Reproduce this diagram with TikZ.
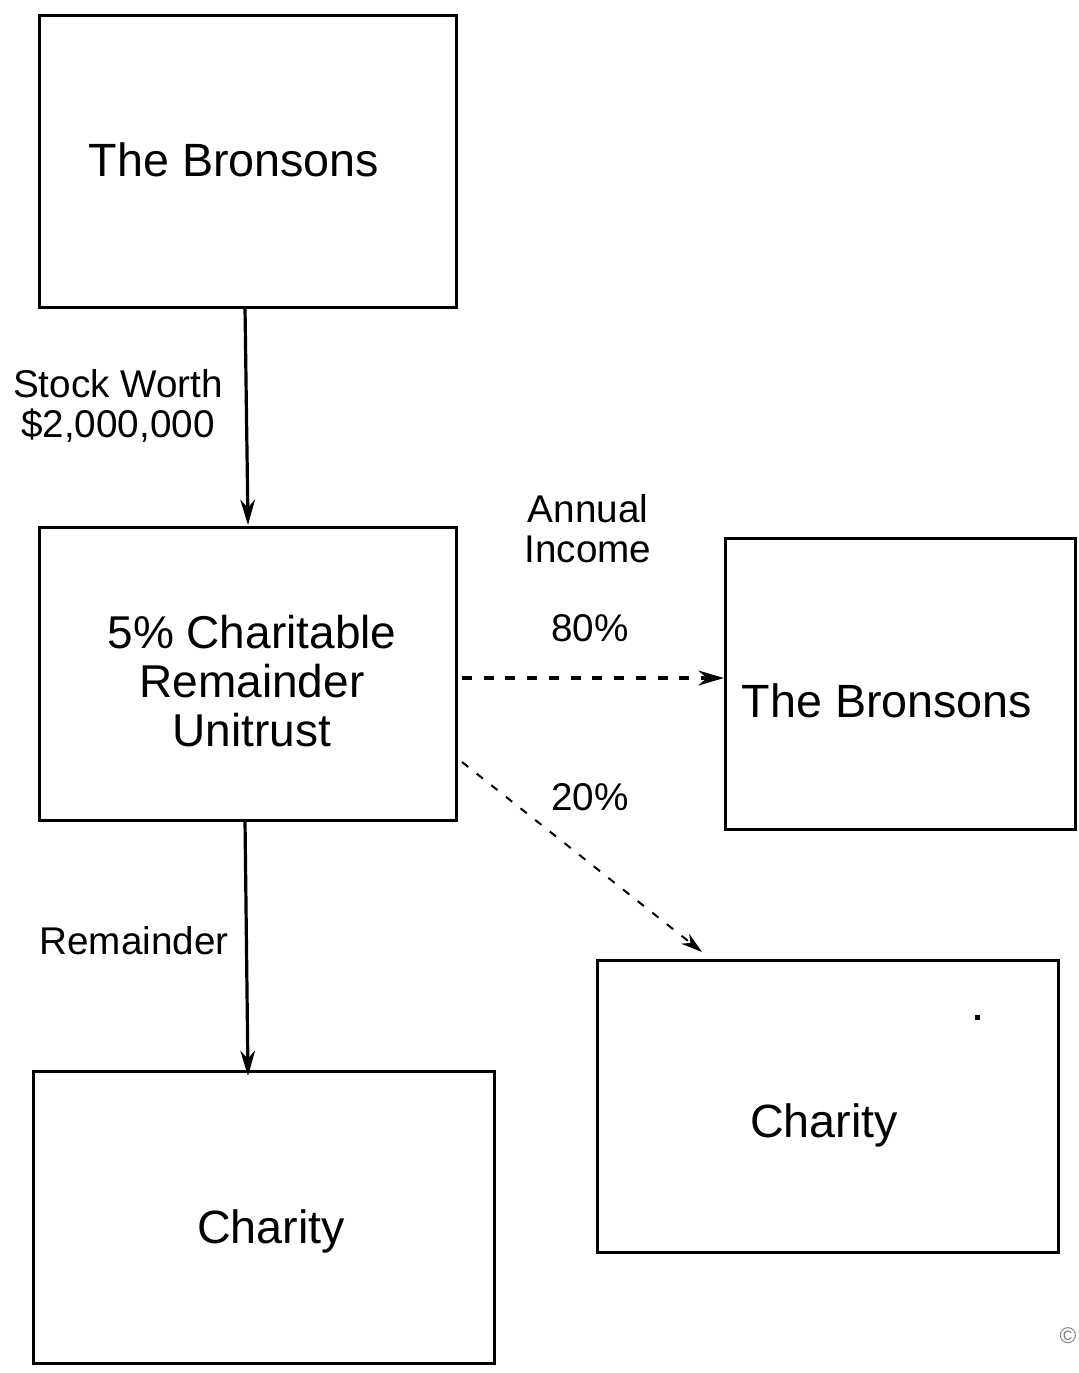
\documentclass[tikz,border=0pt]{standalone}
\usepackage{fontspec}
\setmainfont{Liberation Sans}
\usetikzlibrary{arrows.meta}
\begin{document}
\begin{tikzpicture}[x=0.75pt,y=-0.75pt,
  box/.style={draw,line width=2.25pt,rectangle,inner sep=0pt},
  big/.style={font=\fontsize{35}{40}\selectfont,anchor=base,inner sep=0pt},
  mid/.style={font=\fontsize{34.5}{36.75}\selectfont,anchor=base,inner sep=0pt,align=center},
  lbl/.style={font=\fontsize{29}{30}\selectfont,anchor=base,inner sep=0pt,align=center},
  tip/.style={-{Stealth[length=19pt,width=11pt,inset=6pt]}},
  solidarrow/.style={tip,line width=2.4pt},
  thickdash/.style={tip,line width=3pt,dash pattern=on 7.5pt off 8.8pt},
  thindash/.style={-{Stealth[length=16pt,width=9.5pt,inset=5pt]},line width=1.5pt,dash pattern=on 6pt off 8pt}]
\useasboundingbox (0,0) rectangle (1078,1373);
% boxes
\node[box,minimum width=417*0.75pt,minimum height=291*0.75pt] (b1) at (247.5,161.5) {};
\node[box,minimum width=417*0.75pt,minimum height=293*0.75pt] (crut) at (247.5,673.5) {};
\node[box,minimum width=350*0.75pt,minimum height=291*0.75pt] (b2) at (900,683.5) {};
\node[box,minimum width=461*0.75pt,minimum height=292*0.75pt] (c2) at (827.5,1106) {};
\node[box,minimum width=461*0.75pt,minimum height=292*0.75pt] (c1) at (263.5,1217) {};
% texts
\node[big] (t1) at (234,177) {The Bronsons};
\node[mid] (t2) at (252,746) {5\% Charitable\\Remainder\\Unitrust};
\node[big] (t3) at (887,717) {The Bronsons};
\node[big] (t4) at (824,1137) {Charity};
\node[big] (t5) at (271,1243) {Charity};
\node[lbl] (l1) at (118,437) {Stock Worth\\\$2,000,000};
\node[lbl] (l2) at (588,562) {Annual\\Income};
\node[lbl] (l3) at (590,641) {80\%};
\node[lbl] (l4) at (590,810) {20\%};
\node[lbl] (l5) at (134,954) {Remainder};
% connectors
\coordinate (a1s) at (245,307);
\coordinate (a1e) at (248,525);
\draw[solidarrow] (a1s) -- (a1e);
\coordinate (a2s) at (245,820);
\coordinate (a2e) at (248,1076);
\draw[solidarrow] (a2s) -- (a2e);
\coordinate (a3s) at (462,678);
\coordinate (a3e) at (724,678);
\draw[thickdash] (a3s) -- (a3e);
\coordinate (a4s) at (462,762);
\coordinate (a4e) at (702,952);
\draw[thindash] (a4s) -- (a4e);
% small dot and copyright
\fill (975,1015) rectangle (980,1020);
\node[font=\fontsize{17}{18}\selectfont,text=gray,inner sep=0pt] (copy) at (1068,1336) {©};
\end{tikzpicture}
\end{document}
